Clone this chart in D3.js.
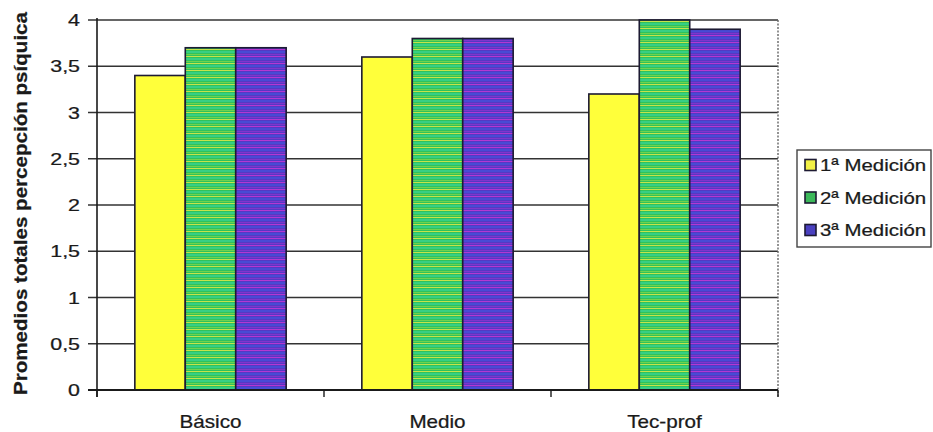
<!DOCTYPE html>
<html>
<head>
<meta charset="utf-8">
<script src="https://cdn.jsdelivr.net/npm/d3@7"></script>
<style>
  html, body { margin: 0; padding: 0; background: #ffffff; }
  svg { display: block; }
  text { font-family: "Liberation Sans", Arial, sans-serif; fill: #1a1a1a; stroke: #1a1a1a; stroke-width: 0.25; }
</style>
</head>
<body>
<svg id="chart" width="933" height="432"></svg>
<script>
// Average psychic-perception totals by education level, three measurements
const categories = ["Básico", "Medio", "Tec-prof"];
const seriesNames = ["1ª Medición", "2ª Medición", "3ª Medición"];
const medicion1 = [3.4, 3.6, 3.2];
const medicion2 = [3.7, 3.8, 4.0];
const medicion3 = [3.7, 3.8, 3.9];
const yTicks = [0, 0.5, 1, 1.5, 2, 2.5, 3, 3.5, 4];
const yTickLabels = ["0", "0,5", "1", "1,5", "2", "2,5", "3", "3,5", "4"];
const yTitle = "Promedios totales percepción psíquica";

const series = [medicion1, medicion2, medicion3];
const fills = ["#ffff3a", "url(#stripeGreen)", "url(#stripePurple)"];
const swatchFills = ["#f2f046", "#3cb85a", "#4a40c0"];

const svg = d3.select("#chart");
const plotL = 97, plotR = 778, plotT = 20, plotB = 390;

// striped fills for the 2nd and 3rd measurement bars
const defs = svg.append("defs");
function stripes(id, base, rows) {
  const p = defs.append("pattern").attr("id", id)
    .attr("patternUnits", "userSpaceOnUse").attr("width", 8).attr("height", 7);
  p.append("rect").attr("width", 8).attr("height", 7).attr("fill", base);
  rows.forEach(r => p.append("rect").attr("x", 0).attr("y", r[0])
    .attr("width", 8).attr("height", r[1]).attr("fill", r[2]));
}
stripes("stripeGreen", "#2fc35c", [[0, 1, "#c6e34a"], [2.5, 1, "#3fdcae"], [5, 0.8, "#7fd84a"]]);
stripes("stripePurple", "#5538c4", [[0, 1, "#b437d2"], [2.5, 1, "#3a5ee6"], [5, 0.8, "#8a34d0"]]);

const x0 = d3.scaleBand().domain(categories).range([plotL, plotR]).paddingInner(0).paddingOuter(0);
const x1 = d3.scaleBand().domain(d3.range(seriesNames.length))
  .range([0, x0.bandwidth()]).paddingOuter(0.75).paddingInner(0);
const y = d3.scaleLinear().domain([0, 4]).range([plotB, plotT]);

// horizontal gridlines (with tick stubs left of the axis)
svg.append("g").selectAll("line").data(yTicks).join("line")
  .attr("x1", plotL - 9).attr("x2", plotR)
  .attr("y1", d => y(d)).attr("y2", d => y(d))
  .attr("stroke", "#333").attr("stroke-width", 1.4);

// right edge of plot area (dotted)
svg.append("line").attr("x1", plotR).attr("x2", plotR)
  .attr("y1", plotT).attr("y2", plotB + 7)
  .attr("stroke", "#666").attr("stroke-width", 1.4).attr("stroke-dasharray", "2,1.5");

// bars
const groups = svg.append("g").selectAll("g").data(categories).join("g")
  .attr("transform", d => `translate(${x0(d)},0)`);
groups.selectAll("rect").data((c, ci) => series.map((s, si) => ({ si, v: s[ci] }))).join("rect")
  .attr("x", d => x1(d.si))
  .attr("y", d => y(d.v))
  .attr("width", x1.bandwidth())
  .attr("height", d => plotB - y(d.v))
  .attr("fill", d => fills[d.si])
  .attr("stroke", "#1d1a33").attr("stroke-width", 1.6);

// axes lines
svg.append("line").attr("x1", plotL).attr("x2", plotL).attr("y1", plotT - 2).attr("y2", plotB + 7)
  .attr("stroke", "#1a1a1a").attr("stroke-width", 1.6);
svg.append("line").attr("x1", plotL - 9).attr("x2", plotR).attr("y1", plotB).attr("y2", plotB)
  .attr("stroke", "#1a1a1a").attr("stroke-width", 1.8);
// category boundary ticks
const boundaries = categories.map(c => x0(c)).concat([x0(categories[categories.length - 1]) + x0.bandwidth()]);
svg.append("g").selectAll("line").data(boundaries).join("line")
  .attr("x1", d => d).attr("x2", d => d).attr("y1", plotB).attr("y2", plotB + 7)
  .attr("stroke", "#1a1a1a").attr("stroke-width", 1.4);

// text helper with slight horizontal widening
function wideText(g, x, yy, str, size, anchor, sx) {
  return g.append("text")
    .attr("transform", `translate(${x},${yy}) scale(${sx},1)`)
    .attr("text-anchor", anchor).attr("font-size", size).text(str);
}

// y tick labels
const yl = svg.append("g");
yTicks.forEach((t, i) => wideText(yl, 80, y(t) + 6, yTickLabels[i], 17, "end", 1.26));

// x labels
const xl = svg.append("g");
categories.forEach(c => wideText(xl, x0(c) + x0.bandwidth() / 2, 428, c, 17.5, "middle", 1.18));

// y axis title
svg.append("text")
  .attr("transform", `translate(27,${(12 + 395) / 2}) rotate(-90)`)
  .attr("text-anchor", "middle").attr("font-size", 18).attr("font-weight", "bold")
  .attr("textLength", 383).attr("lengthAdjust", "spacingAndGlyphs")
  .text(yTitle);

// legend
const lg = svg.append("g");
lg.append("rect").attr("x", 797).attr("y", 150).attr("width", 134).attr("height", 97)
  .attr("fill", "#fff").attr("stroke", "#444").attr("stroke-width", 1.4);
seriesNames.forEach((name, i) => {
  const cy = 165 + i * 32.5;
  lg.append("rect").attr("x", 805).attr("y", cy - 5.5).attr("width", 11).attr("height", 11)
    .attr("fill", swatchFills[i]).attr("stroke", "#1d1a33").attr("stroke-width", 1.6);
  wideText(lg, 820, cy + 6, name, 17, "start", 1.2);
});
</script>
</body>
</html>
